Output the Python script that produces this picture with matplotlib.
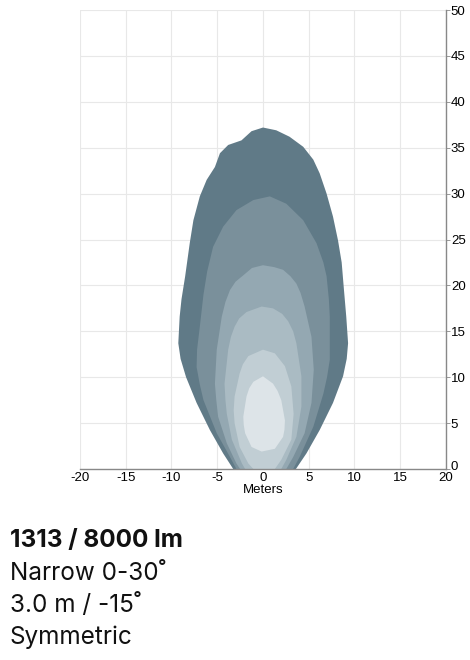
import matplotlib
matplotlib.use("Agg")
import matplotlib.pyplot as plt
from matplotlib.transforms import ScaledTranslation
import numpy as np

# isolux contour outlines (meters), outer -> inner
# each level: top point, left edge top->bottom, right edge top->bottom
outer_top = (0.0, 37.2)
outer_left_x = [-1.25, -2.35, -3.8, -4.7, -5.25, -6.15, -6.9, -7.6, -8.0, -8.5, -8.9, -9.1, -9.25, -9.0,
                -8.4, -7.25, -5.8, -4.35, -3.25]
outer_left_y = [36.8, 35.8, 35.3, 34.4, 32.9, 31.5, 29.7, 27.1, 24.6, 21.0, 18.5, 16.6, 13.7, 12.0,
                10.0, 7.2, 4.25, 1.7, 0.0]
outer_right_x = [1.45, 2.9, 4.4, 5.5, 6.2, 6.95, 7.65, 8.2, 8.6, 8.85, 9.1, 9.3, 9.15, 8.75, 7.65, 6.2,
                 4.75, 3.6]
outer_right_y = [36.9, 36.2, 35.1, 33.7, 32.2, 30.0, 27.5, 24.9, 22.5, 19.5, 16.6, 13.7, 12.0, 10.1,
                 7.2, 4.25, 1.7, 0.0]

l2_top = (0.75, 29.7)
l2_left_x = [-1.05, -2.9, -4.35, -5.45, -6.1, -6.5, -6.9, -7.2, -7.25, -6.9, -6.5, -5.05, -3.6, -2.9]
l2_left_y = [29.3, 28.2, 26.4, 24.2, 21.5, 19.0, 15.5, 13.0, 11.1, 9.2, 7.5, 3.9, 1.3, 0.0]
l2_right_x = [2.55, 4.4, 5.85, 6.6, 6.95, 7.2, 7.3, 7.3, 7.0, 6.6, 5.5, 4.0, 3.3]
l2_right_y = [28.9, 27.1, 24.6, 22.5, 21.0, 18.5, 16.6, 11.9, 10.0, 8.2, 4.6, 1.3, 0.0]

l3_top = (0.0, 22.2)
l3_left_x = [-1.2, -2.15, -3.0, -3.6, -4.1, -4.5, -5.05, -5.25, -5.1, -4.9, -3.95, -2.9, -2.5]
l3_left_y = [21.9, 21.1, 20.4, 19.5, 18.2, 16.6, 13.0, 9.3, 7.5, 5.7, 2.8, 0.6, 0.0]
l3_right_x = [1.2, 2.2, 3.0, 3.65, 4.1, 4.55, 5.3, 5.55, 5.3, 4.55, 3.3, 2.55]
l3_right_y = [22.0, 21.7, 21.0, 20.2, 19.2, 17.7, 14.4, 10.8, 7.2, 3.9, 1.3, 0.0]

l4_top = (-0.15, 17.7)
l4_left_x = [-1.8, -2.6, -3.1, -3.5, -3.8, -4.2, -4.1, -3.95, -3.4, -2.3, -1.95]
l4_left_y = [17.1, 16.4, 15.5, 14.4, 13.0, 9.3, 7.5, 6.0, 3.2, 0.6, 0.0]
l4_right_x = [1.1, 2.1, 2.75, 3.3, 3.65, 4.2, 4.2, 3.65, 2.55, 2.0]
l4_right_y = [17.5, 16.9, 16.1, 15.0, 13.7, 10.1, 6.8, 3.5, 1.0, 0.0]

l5_top = (0.0, 13.0)
l5_left_x = [-1.6, -2.2, -2.55, -3.1, -3.2, -3.1, -2.55, -1.6, -1.05]
l5_left_y = [12.3, 11.4, 10.4, 7.9, 6.4, 5.0, 2.4, 0.6, 0.0]
l5_right_x = [1.3, 2.4, 3.1, 3.35, 3.1, 2.0, 1.3]
l5_right_y = [12.6, 11.2, 9.0, 6.0, 3.2, 1.0, 0.0]

l6_top = (0.0, 10.1)
l6_left_x = [-1.05, -1.5, -1.8, -2.15, -2.1, -1.95, -1.25, -0.15]
l6_left_y = [9.5, 8.8, 7.9, 5.7, 4.8, 3.9, 2.4, 1.9]
l6_right_x = [1.1, 1.6, 2.0, 2.4, 2.35, 2.2, 1.3]
l6_right_y = [9.3, 8.5, 7.5, 5.3, 4.3, 3.5, 2.2]

levels = [
    (outer_top, outer_left_x, outer_left_y, outer_right_x, outer_right_y),
    (l2_top, l2_left_x, l2_left_y, l2_right_x, l2_right_y),
    (l3_top, l3_left_x, l3_left_y, l3_right_x, l3_right_y),
    (l4_top, l4_left_x, l4_left_y, l4_right_x, l4_right_y),
    (l5_top, l5_left_x, l5_left_y, l5_right_x, l5_right_y),
    (l6_top, l6_left_x, l6_left_y, l6_right_x, l6_right_y),
]
colors = ['#607a87', '#7a909b', '#94a8b2', '#aabbc3', '#c1ced4', '#dde4e8']

x_ticks = [-20, -15, -10, -5, 0, 5, 10, 15, 20]
y_ticks = [0, 5, 10, 15, 20, 25, 30, 35, 40, 45, 50]

info_lines = ["1313 / 8000 lm", "Narrow 0-30\u02da", "3.0 m / -15\u02da", "Symmetric"]

plt.rcParams['font.family'] = ['Liberation Sans', 'DejaVu Sans']
plt.rcParams['axes.unicode_minus'] = False

fig = plt.figure(figsize=(4.7, 6.6), dpi=100)
ax = fig.add_axes([0.170, 0.2894, 0.779, 0.6954])

for (top, lx, ly, rx, ry), c in zip(levels, colors):
    # go down the left edge, back up the right edge
    xs = [top[0]] + list(lx) + list(rx[::-1])
    ys = [top[1]] + list(ly) + list(ry[::-1])
    ax.fill(xs, ys, color=c, lw=0, zorder=2)

ax.set_xlim(-20, 20)
ax.set_ylim(0, 50)
ax.set_xticks(x_ticks)
ax.set_yticks(y_ticks)
ax.grid(True, color='#e8e8e8', lw=0.8, zorder=0)
ax.set_axisbelow(True)
ax.yaxis.tick_right()
ax.tick_params(axis='y', length=3, width=0.6, color='#888888', pad=0.5, labelsize=9.5)
ax.tick_params(axis='x', length=0, pad=2.5, labelsize=9.5)
for s in ['left', 'top']:
    ax.spines[s].set_visible(False)
for s in ['right', 'bottom']:
    ax.spines[s].set_color('#888888')
    ax.spines[s].set_linewidth(1.0)
ax.set_xlabel('Meters', fontsize=9.5, labelpad=0)

# nudge the "0" label up a little so it clears the x labels
ylabs = ax.get_yticklabels()
ylabs[0].set_transform(ylabs[0].get_transform() + ScaledTranslation(0, 3 / 100, fig.dpi_scale_trans))

fig.text(0.021, 1 - 540 / 660, info_lines[0], fontsize=17.5, fontweight='bold',
         family=['Inter', 'DejaVu Sans'], va='center', color='#111111')
for i, line in enumerate(info_lines[1:]):
    fig.text(0.021, 1 - (573 + 32 * i) / 660, line, fontsize=17.5,
             family=['Inter', 'DejaVu Sans'], va='center', color='#111111')

fig.savefig('out.png', dpi=100)
